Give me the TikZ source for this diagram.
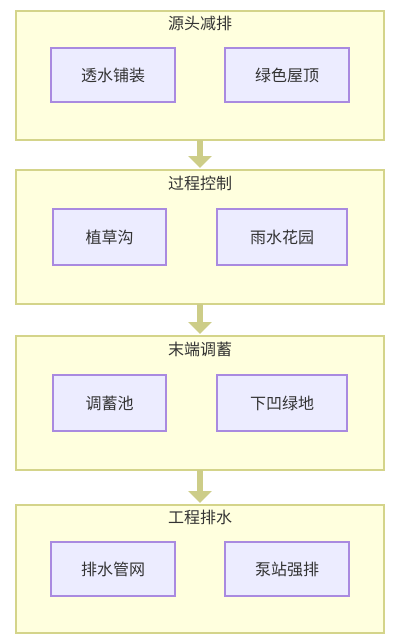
\documentclass[tikz,border=0pt]{standalone}
\usepackage{fontspec}
\setmainfont{Noto Sans CJK SC}
\usetikzlibrary{arrows.meta}
\definecolor{clfill}{HTML}{FFFFDE}
\definecolor{cldraw}{HTML}{D4D48A}
\definecolor{ndfill}{HTML}{ECECFF}
\definecolor{nddraw}{HTML}{A98AE0}
\definecolor{arr}{HTML}{CDCD88}
\definecolor{txt}{HTML}{333333}
\tikzset{
  cluster/.style={draw=cldraw, fill=clfill, line width=1.6pt, minimum width=368pt, inner sep=0pt, outer sep=0pt},
  itembox/.style={draw=nddraw, fill=ndfill, line width=1.1pt, inner sep=0pt, outer sep=0pt, text=txt, font=\fontsize{16}{19}\selectfont},
  ctitle/.style={text=txt, font=\fontsize{16}{19}\selectfont, inner sep=0pt},
  flow/.style={draw=arr, line width=6pt, -{Triangle[width=23pt,length=12pt]}, shorten >=2pt}
}
\begin{document}
\begin{tikzpicture}[x=1pt,y=-1pt]
\useasboundingbox[fill=white] (0,0) rectangle (400,640);
% clusters
\node[cluster, minimum height=129pt] (c1) at (200,75.5) {};
\node[cluster, minimum height=134pt] (c2) at (200,237) {};
\node[cluster, minimum height=134pt] (c3) at (200,403) {};
\node[cluster, minimum height=128pt] (c4) at (200,569) {};
% titles
\node[ctitle] (t1) at (200,23) {源头减排};
\node[ctitle] (t2) at (200,183) {过程控制};
\node[ctitle] (t3) at (200,349) {末端调蓄};
\node[ctitle] (t4) at (200,517) {工程排水};
% items
\node[itembox, minimum width=124pt, minimum height=54pt] (a1) at (113,75) {透水铺装};
\node[itembox, minimum width=124pt, minimum height=54pt] (b1) at (287,75) {绿色屋顶};
\node[itembox, minimum width=113pt, minimum height=56pt] (a2) at (109.5,237) {植草沟};
\node[itembox, minimum width=130pt, minimum height=56pt] (b2) at (282,237) {雨水花园};
\node[itembox, minimum width=113pt, minimum height=56pt] (a3) at (109.5,403) {调蓄池};
\node[itembox, minimum width=130pt, minimum height=56pt] (b3) at (282,403) {下凹绿地};
\node[itembox, minimum width=124pt, minimum height=54pt] (a4) at (113,569) {排水管网};
\node[itembox, minimum width=124pt, minimum height=54pt] (b4) at (287,569) {泵站强排};
% arrows
\draw[flow] (c1.south) -- (c2.north);
\draw[flow] (c2.south) -- (c3.north);
\draw[flow] (c3.south) -- (c4.north);
\end{tikzpicture}
\end{document}
